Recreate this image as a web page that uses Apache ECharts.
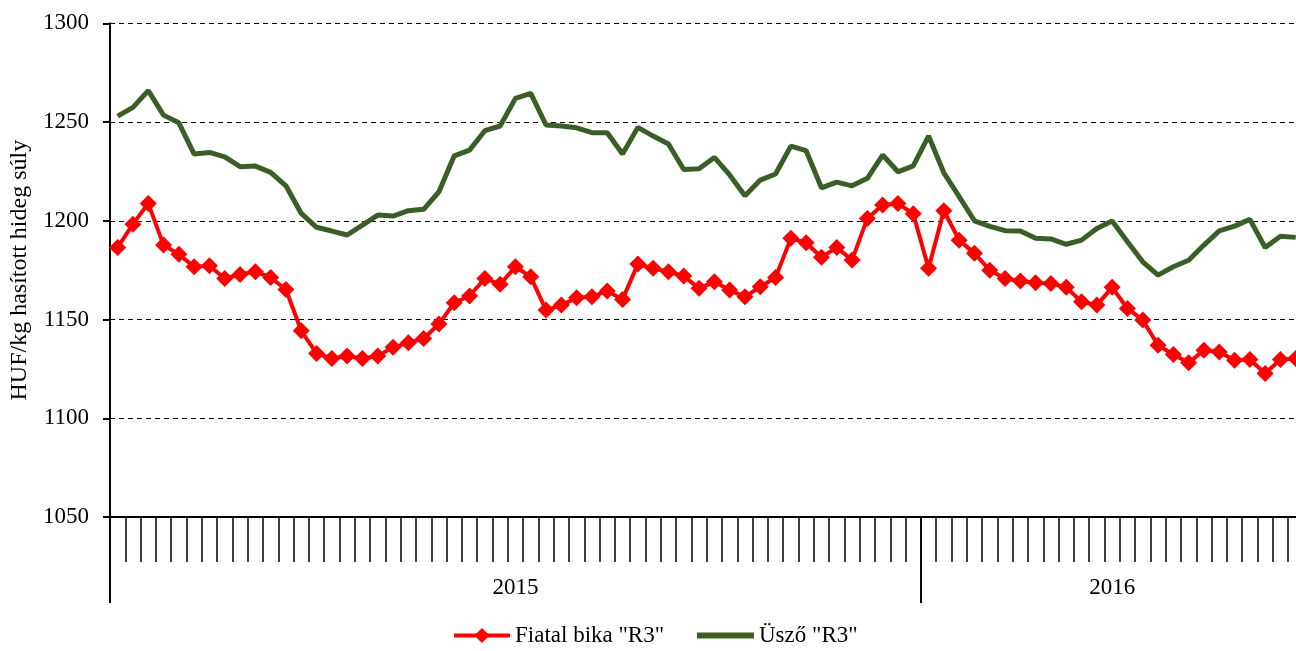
<!DOCTYPE html>
<html>
<head>
<meta charset="utf-8">
<script src="https://cdn.jsdelivr.net/npm/echarts@6/dist/echarts.min.js"></script>
<style>
html,body{margin:0;padding:0;background:#fff;}
#chart{width:1296px;height:651px;}
</style>
</head>
<body>
<div id="chart"></div>
<script>
// Weeks: 53 weeks of 2015, 25 weeks of 2016
var weeks2015 = Array.from({length:53}, function(_, i){ return '2015/' + (i+1); });
var weeks2016 = Array.from({length:25}, function(_, i){ return '2016/' + (i+1); });
var categories = weeks2015.concat(weeks2016);

var yearLabels = ['2015', '2016'];
var yearBounds = [0, 53, 78];

var fiatalBika = [1186.5,1198.3,1208.8,1187.7,1183.0,1176.7,1177.2,1170.8,1172.8,1174.2,
  1171.3,1165.2,1144.3,1132.8,1130.3,1131.5,1130.3,1131.5,1135.9,1138.2,
  1140.4,1147.7,1158.5,1161.9,1170.8,1167.8,1176.7,1171.6,1154.8,1157.3,
  1161.0,1161.5,1164.5,1160.2,1178.1,1175.9,1174.2,1172.0,1165.8,1169.1,
  1164.9,1161.5,1166.6,1171.3,1191.1,1188.9,1181.5,1186.5,1180.1,1201.2,
  1208.0,1208.8,1203.5,1175.9,1205.1,1190.2,1183.5,1175.0,1170.8,1169.5,
  1168.6,1168.3,1166.3,1159.0,1157.3,1166.3,1155.6,1149.7,1137.0,1132.3,
  1128.1,1134.5,1133.6,1129.4,1129.8,1122.7,1129.8,1130.3];

var usz = [1253.0,1257.4,1265.9,1253.5,1249.6,1233.8,1234.6,1232.4,1227.4,1227.7,
  1224.5,1217.7,1203.7,1196.7,1194.8,1192.8,1197.8,1202.9,1202.4,1205.1,
  1205.8,1214.7,1232.9,1235.8,1245.6,1248.0,1262.0,1264.5,1248.5,1248.0,
  1247.1,1244.6,1244.6,1233.8,1247.3,1242.9,1238.9,1226.0,1226.4,1232.1,
  1223.2,1212.7,1220.6,1223.7,1237.8,1235.5,1216.7,1219.6,1217.7,1221.5,
  1233.3,1224.8,1227.8,1242.9,1224.3,1212.2,1200.0,1197.2,1195.0,1194.8,
  1191.2,1190.8,1188.1,1190.2,1196.1,1199.9,1189.4,1179.2,1172.5,1176.7,
  1180.0,1187.7,1194.9,1197.3,1200.7,1186.5,1192.2,1191.6];

var seriesNames = ['Fiatal bika "R3"', 'Üsző "R3"'];
var yAxisName = 'HUF/kg hasított hideg súly';

var FONT = 'Liberation Serif';
var FS = 23;
var RED = '#ff0000';
var GREEN = '#3b5e26';
var chart = echarts.init(document.getElementById('chart'), null, {renderer:'canvas'});

var yearMid = [];
for (var k = 0; k < yearLabels.length; k++) yearMid.push((yearBounds[k] + yearBounds[k+1]) / 2);

chart.setOption({
  animation: false,
  backgroundColor: '#ffffff',
  textStyle: {fontFamily: FONT, color: '#000'},
  grid: {left: 110, top: 23.3, bottom: 134, right: -7.4, containLabel: false, outerBoundsMode: 'none'},
  legend: [
    {
      left: 452, top: 624, padding: 0,
      itemWidth: 56, itemHeight: 19,
      textStyle: {fontFamily: FONT, fontSize: FS, color: '#000'},
      lineStyle: {width: 4},
      data: [seriesNames[0]]
    },
    {
      left: 697, top: 624, padding: 0,
      itemWidth: 57, itemHeight: 6, icon: 'rect',
      textStyle: {fontFamily: FONT, fontSize: FS, color: '#000'},
      data: [seriesNames[1]]
    }
  ],
  xAxis: [
    {
      type: 'category',
      data: categories,
      boundaryGap: true,
      axisLine: {show: true, lineStyle: {color: '#000', width: 2}},
      axisTick: {show: true, interval: 0, length: 45, lineStyle: {color: '#000', width: 1.5}},
      axisLabel: {show: false},
      splitLine: {show: false}
    },
    {
      type: 'value',
      min: 0, max: 78,
      position: 'bottom',
      axisLine: {show: false},
      splitLine: {show: false},
      axisTick: {show: true, customValues: [yearBounds[0], yearBounds[1]], length: 86, lineStyle: {color: '#000', width: 2}},
      axisLabel: {
        show: true, customValues: yearMid, margin: 59,
        fontFamily: FONT, fontSize: FS, color: '#000',
        formatter: function(v){ return v < yearBounds[1] ? yearLabels[0] : yearLabels[1]; }
      }
    }
  ],
  yAxis: {
    type: 'value',
    min: 1050, max: 1300, interval: 50,
    name: yAxisName,
    nameLocation: 'middle',
    nameGap: 76,
    nameTextStyle: {fontFamily: FONT, fontSize: 24, color: '#000'},
    axisLine: {show: true, lineStyle: {color: '#000', width: 2}},
    axisTick: {show: true, length: 7, lineStyle: {color: '#000', width: 2}},
    axisLabel: {margin: 21, fontFamily: FONT, fontSize: FS, color: '#000', formatter: function(v){ return String(v); }},
    splitLine: {show: true, lineStyle: {color: '#000', width: 1, type: [5, 4]}}
  },
  series: [
    {
      name: seriesNames[0],
      type: 'line',
      data: fiatalBika,
      symbol: 'diamond',
      symbolSize: 17,
      showAllSymbol: true,
      itemStyle: {color: RED},
      lineStyle: {color: RED, width: 4},
      z: 3
    },
    {
      name: seriesNames[1],
      type: 'line',
      data: usz,
      symbol: 'none',
      itemStyle: {color: GREEN},
      lineStyle: {color: GREEN, width: 5},
      z: 2
    }
  ]
});
</script>
</body>
</html>
